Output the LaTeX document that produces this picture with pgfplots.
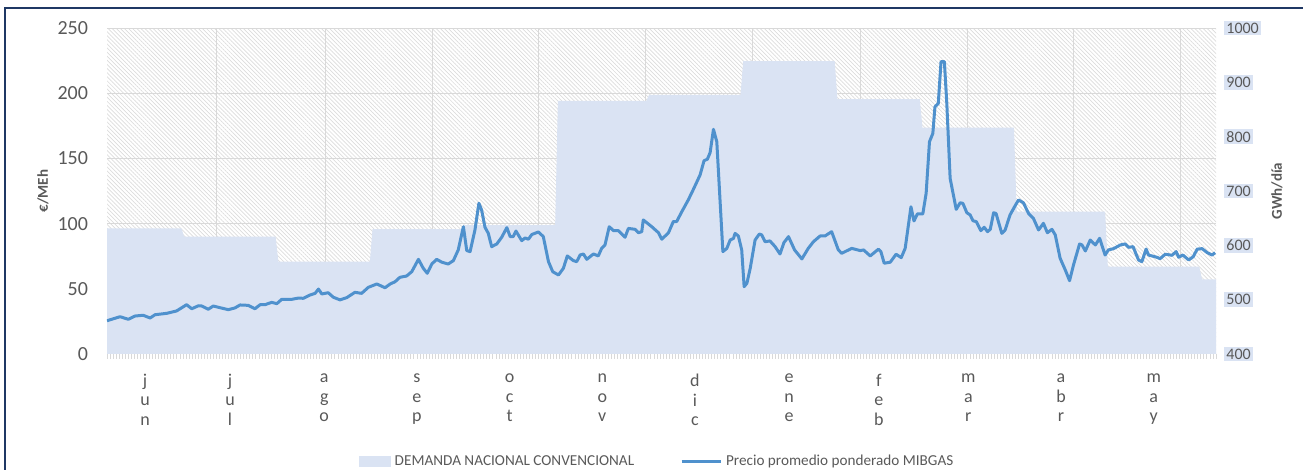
\documentclass[border=0pt]{standalone}
\usepackage{fontspec}
\setmainfont{Carlito}
\usepackage{pgfplots}
\pgfplotsset{compat=1.18}
\usetikzlibrary{patterns.meta}
\definecolor{demfill}{HTML}{DAE3F3}
\definecolor{pline}{HTML}{4F91CD}
\definecolor{gridc}{HTML}{D9D9D9}
\definecolor{txt}{HTML}{595959}
\definecolor{framec}{HTML}{1F3864}
\definecolor{hatch}{HTML}{DCDCDC}
\pgfplotstableread{
d gwh
0 631
24.5 631
25.4 616
55.5 616
56.4 570
86.5 570
87.4 630
116.5 630
117.4 637
147.5 637
148.4 866
177.5 866
178.4 877
208.5 877
209.4 939
239.5 939
240.4 869
267.5 869
268.4 816.5
298.5 816.5
299.4 662
328.5 662
329.4 561
359.5 561
360.4 537.5
365 537.5
}\demanda
\pgfplotstableread{
d p
0 25.5
4.3 28.6
7.0 26.6
9.2 29.1
11.9 29.7
14.2 27.6
15.8 30.1
19.7 31.2
22.9 33.0
26.2 37.8
27.9 34.7
30.1 37.0
31.2 36.8
33.3 34.3
35.0 36.8
37.2 35.5
39.9 34.0
42.1 35.3
43.8 37.6
46.5 37.3
48.7 34.7
50.4 37.8
52.0 37.8
54.2 39.6
55.9 38.6
57.5 41.9
60.8 41.9
63.0 42.9
64.6 42.7
66.8 45.2
68.5 46.5
69.6 49.8
70.7 46.0
72.8 47.0
74.5 43.5
76.7 41.5
78.9 43.2
81.6 47.3
83.8 46.5
86.0 51.1
88.8 53.7
91.5 50.8
93.2 53.7
94.8 55.4
96.4 58.8
98.6 59.8
100.3 63.1
102.5 72.6
104.1 65.7
105.4 61.9
106.9 69.0
108.5 72.6
110.2 70.4
112.3 69.0
114.0 71.6
115.6 79.8
117.3 97.6
118.4 79.3
119.5 78.5
121.1 95.1
122.4 115.6
123.3 110.4
124.4 97.2
125.5 92.5
126.6 82.3
128.3 84.4
129.9 89.5
131.6 96.9
132.7 90.0
133.7 90.0
134.6 94.3
136.5 86.9
137.6 89.0
138.7 88.0
139.8 91.6
142.0 93.6
143.6 90.0
145.3 70.8
146.7 63.1
148.6 60.6
150.2 65.7
151.5 75.2
153.5 71.6
154.6 70.8
155.7 75.9
156.8 76.7
157.9 72.6
160.1 76.7
161.7 75.2
162.8 81.0
163.9 83.6
165.3 97.6
166.7 94.6
168.3 94.6
170.5 89.5
171.6 96.3
173.8 95.6
174.9 93.0
176.0 93.8
176.5 102.8
179.3 97.6
181.5 93.0
182.6 88.0
184.8 93.0
186.4 101.6
187.5 101.6
189.2 109.2
191.3 118.1
193.0 126.3
195.2 137.3
196.5 148.2
197.6 149.4
198.5 154.4
199.6 172.3
200.7 162.8
202.7 78.5
204.0 81.0
205.1 87.4
206.2 88.7
206.7 92.5
207.8 90.5
208.9 79.8
209.7 51.6
210.6 54.2
211.7 65.7
213.3 87.4
214.7 92.0
215.5 91.3
216.6 86.1
218.2 86.7
219.9 82.3
221.5 76.7
222.8 85.4
224.3 90.0
226.3 79.8
228.7 72.9
230.8 81.0
232.5 86.1
234.7 90.5
236.3 90.5
238.5 93.8
240.7 79.8
241.8 77.2
245.1 81.0
247.9 79.3
249.0 79.8
251.2 75.2
253.9 80.4
254.7 78.5
255.8 69.6
257.8 70.4
259.7 76.5
261.4 73.9
262.7 81.0
264.6 112.9
265.6 102.0
266.7 107.4
268.5 107.4
269.6 123.2
270.7 162.8
271.8 169.1
272.5 189.6
273.6 192.2
274.5 224.2
275.6 224.2
276.4 192.2
277.5 134.6
279.5 110.9
280.8 116.0
281.7 115.5
283.0 108.3
284.1 106.6
285.0 102.2
286.1 101.5
287.6 94.6
288.7 97.2
289.8 93.8
290.7 95.6
291.8 108.3
292.6 107.8
294.5 92.5
295.6 95.1
297.2 106.6
298.6 112.5
300.0 118.1
301.6 116.0
303.3 107.8
304.9 104.0
306.6 95.1
308.2 100.2
309.5 93.0
311.0 95.6
312.1 91.3
313.7 73.4
315.4 64.4
316.8 56.2
318.1 68.3
320.1 84.4
320.9 83.6
322.0 79.0
323.6 87.4
325.3 83.6
326.7 88.7
328.5 75.9
329.6 79.8
331.3 80.8
333.5 83.6
335.1 84.4
336.2 81.8
337.7 82.3
339.5 72.1
340.6 70.8
342.0 80.5
342.8 75.9
345.5 74.2
346.6 73.1
348.3 76.5
350.5 75.7
351.9 78.5
352.7 74.2
354.1 75.9
356.0 72.1
357.5 74.6
358.8 80.4
360.4 80.8
362.1 77.7
363.7 75.9
364.7 77.7
}\precio
\begin{document}
\begin{tikzpicture}
\useasboundingbox (0,0) rectangle (651.5pt,235pt);
% back axis: demand (GWh/dia), right scale
\begin{axis}[
  scale only axis, width=554.5pt, height=163pt,
  at={(53.5pt,58pt)}, anchor=south west,
  xmin=0, xmax=365, ymin=400, ymax=1000,
  axis x line*=bottom, axis y line*=right,
  x axis line style={gridc, line width=0.5pt},
  y axis line style={draw=none},
  /pgf/number format/assume math mode=true,
  /pgf/number format/1000 sep={},
  axis background/.style={pattern={Lines[angle=-45,distance=1.45pt,line width=0.35pt]}, pattern color=hatch},
  ytick={400,500,...,1000},
  major tick length=0pt,
  yticklabel style={font=\fontsize{8}{9}\selectfont, text=txt, fill=demfill, inner sep=1pt, xshift=4pt},
  extra y ticks={520,640,760,880,1000},
  extra y tick labels={},
  extra y tick style={grid=major, yticklabel style={fill=none}},
  xtick={12.5,40.5,71.5,102,132.5,163,193.5,224.5,254,283.5,314,344.5},
  xticklabels={{j\\u\\n},{j\\u\\l},{a\\g\\o},{s\\e\\p},{o\\c\\t},{n\\o\\v},{d\\i\\c},{e\\n\\e},{f\\e\\b},{m\\a\\r},{a\\b\\r},{m\\a\\y}},
  xticklabel style={font=\fontsize{9}{9.75}\selectfont, text=txt, align=center, yshift=-6.5pt},
  minor xtick={0,1,...,365},
  minor tick length=2.5pt,
  minor tick style={gridc, line width=0.4pt},
  tick align=outside,
  extra x ticks={36.2,71.8,107,141.9,177.1,212.6,247.9,283.1,318,353.2},
  extra x tick labels={},
  extra x tick style={grid=major},
  major grid style={gridc, line width=0.5pt},
  every axis y label/.style={at={(axis description cs:1.055,0.5)}, rotate=90, anchor=center, font=\fontsize{7.5}{9}\selectfont\bfseries, text=txt},
  ylabel={GWh/día},
]
\addplot[draw=none, fill=demfill] table[x=d, y=gwh] {\demanda} -- (axis cs:365,400) -- (axis cs:0,400) -- cycle;
\end{axis}
% front axis: price, left scale
\begin{axis}[
  scale only axis, width=554.5pt, height=163pt,
  at={(53.5pt,58pt)}, anchor=south west,
  xmin=0, xmax=365, ymin=0, ymax=250,
  hide x axis,
  axis y line*=left,
  y axis line style={draw=none},
  /pgf/number format/assume math mode=true,
  ytick={0,50,...,250},
  major tick length=0pt,
  yticklabel style={font=\fontsize{10}{12}\selectfont, text=txt, xshift=-6pt},
  every axis y label/.style={at={(axis description cs:-0.0577,0.5)}, rotate=90, anchor=center, font=\fontsize{7.5}{9}\selectfont\bfseries, text=txt},
  ylabel={€/MEh},
  legend style={at={(axis description cs:0.497,-0.33)}, anchor=center, draw=none, fill=none,
    legend columns=2, font=\fontsize{7.6}{9}\selectfont, text=txt,
    /tikz/every even column/.append style={column sep=21pt}},
]
\addlegendimage{legend image code/.code={\fill[demfill] (0pt,-2.5pt) rectangle (15.5pt,2.5pt);}}
\addlegendentry{DEMANDA NACIONAL CONVENCIONAL}
\addplot[pline, line width=1.5pt, line join=round,
  legend image code/.code={\draw[pline,line width=1.5pt] (0pt,0pt) -- (19.5pt,0pt);}]
  table[x=d, y=p] {\precio};
\addlegendentry{Precio promedio ponderado MIBGAS}
\end{axis}
\draw[framec, line width=1.3pt] (2.5pt,-10pt) -- (2.5pt,231pt) -- (700pt,231pt);
\end{tikzpicture}
\end{document}
